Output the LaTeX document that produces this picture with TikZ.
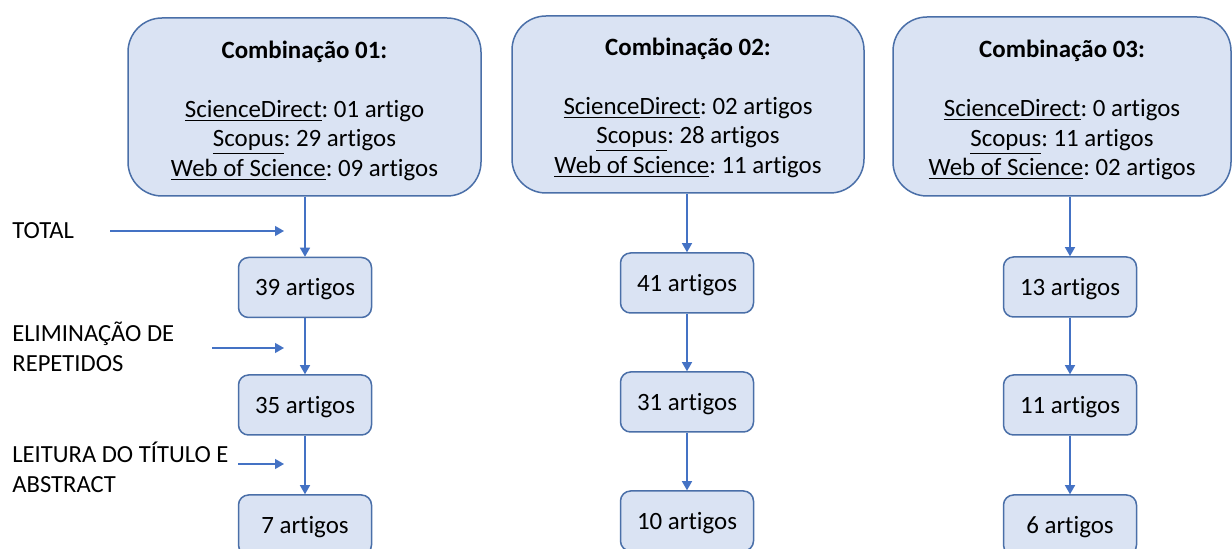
\documentclass[tikz,border=0pt]{standalone}
\usepackage{fontspec}
\setmainfont{Carlito}[Ligatures=NoCommon]
\usetikzlibrary{arrows.meta}
\frenchspacing
\definecolor{boxfill}{HTML}{DAE3F3}
\definecolor{boxline}{HTML}{4A6FA8}
\definecolor{arrcol}{HTML}{4472C4}
\tikzset{
  bigbox/.style={draw=boxline, fill=boxfill, line width=0.75pt, rounded corners=17pt, inner sep=0pt},
  bigtext/.style={align=center, inner sep=0pt, font=\fontsize{12.45pt}{14.75pt}\selectfont},
  smallbox/.style={draw=boxline, fill=boxfill, line width=0.75pt, rounded corners=5pt,
    minimum width=66.5pt, minimum height=30pt, inner sep=0pt, text height=9pt, text depth=0.7pt,
    font=\fontsize{12.45pt}{14.75pt}\selectfont},
  sidelabel/.style={anchor=west, align=left, inner sep=0pt, font=\fontsize{12.3pt}{15pt}\selectfont},
  arr/.style={draw=arrcol, line width=0.65pt, -{Triangle[length=4.5pt,width=5pt]}, arrcol}
}
\begin{document}
\begin{tikzpicture}[x=0.5pt, y=-0.5pt]
\useasboundingbox (0,0) rectangle (1232,549);
\clip (0,0) rectangle (1232,549);

% big boxes
\node[bigbox, minimum width=176.5pt, minimum height=89pt] (b1) at (304.5,107) {};
\node[bigbox, minimum width=176pt, minimum height=88.5pt] (b2) at (688,104.5) {};
\node[bigbox, minimum width=169pt, minimum height=89.5pt] (b3) at (1062,106.5) {};
\node[bigtext] (t1) at ([yshift=-1.75pt]b1.center)
  {\textbf{Combinação 01:}\\ \\ \underline{ScienceDirect}: 01 artigo\\ \underline{Scopus}: 29 artigos\\ \underline{Web of Science}: 09 artigos};
\node[bigtext] (t2) at ([yshift=-1.6pt]b2.center)
  {\textbf{Combinação 02:}\\ \\ \underline{ScienceDirect}: 02 artigos\\ \underline{Scopus}: 28 artigos\\ \underline{Web of Science}: 11 artigos};
\node[bigtext] (t3) at ([yshift=-1.75pt]b3.center)
  {\textbf{Combinação 03:}\\ \\ \underline{ScienceDirect}: 0 artigos\\ \underline{Scopus}: 11 artigos\\ \underline{Web of Science}: 02 artigos};

% small boxes
\node[smallbox] (s11) at (305,287.5) {39 artigos};
\node[smallbox] (s12) at (305,405) {35 artigos};
\node[smallbox] (s13) at (305,525) {7 artigos};
\node[smallbox] (s21) at (687,283) {41 artigos};
\node[smallbox] (s22) at (687,402) {31 artigos};
\node[smallbox] (s23) at (687,521) {10 artigos};
\node[smallbox] (s31) at (1070,287) {13 artigos};
\node[smallbox] (s32) at (1070,405) {11 artigos};
\node[smallbox] (s33) at (1070,525) {6 artigos};

% vertical arrows
\draw[arr] (b1.south -| s11.north) -- (s11.north);
\draw[arr] (s11) -- (s12);
\draw[arr] (s12) -- (s13);
\draw[arr] (b2.south -| s21.north) -- (s21.north);
\draw[arr] (s21) -- (s22);
\draw[arr] (s22) -- (s23);
\draw[arr] (b3.south -| s31.north) -- (s31.north);
\draw[arr] (s31) -- (s32);
\draw[arr] (s32) -- (s33);

% side labels
\node[sidelabel] (l1) at (12,231) {TOTAL};
\node[sidelabel] (l2) at (12,347) {ELIMINAÇÃO DE\\REPETIDOS};
\node[sidelabel] (l3) at (12,467) {LEITURA DO TÍTULO E\\ABSTRACT};

\coordinate (a1s) at (110,231);
\coordinate (a1e) at (284,231);
\coordinate (a2s) at (212,348);
\coordinate (a2e) at (284,348);
\coordinate (a3s) at (238,464);
\coordinate (a3e) at (284,464);
\draw[arr] (a1s) -- (a1e);
\draw[arr] (a2s) -- (a2e);
\draw[arr] (a3s) -- (a3e);
\end{tikzpicture}
\end{document}
